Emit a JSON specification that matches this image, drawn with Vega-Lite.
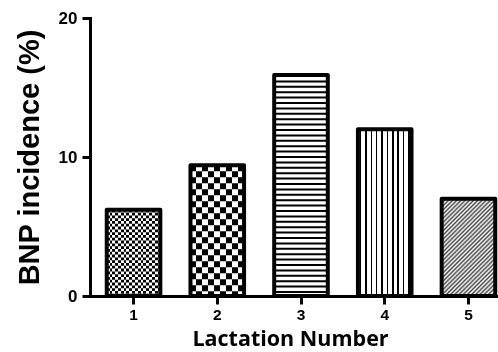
{
  "$schema": "https://vega.github.io/schema/vega-lite/v6.json",
  "autosize": "none",
  "width": 422,
  "height": 278,
  "padding": {"left": 90, "top": 18, "right": 0, "bottom": 56},
  "background": "white",
  "data": {"values": [
    {"lac": "1", "val": 6.2},
    {"lac": "2", "val": 9.4},
    {"lac": "3", "val": 15.9},
    {"lac": "4", "val": 12},
    {"lac": "5", "val": 7}
  ]},
  "encoding": {
    "x": {"field": "lac", "type": "ordinal", "sort": "ascending",
      "scale": {"paddingInner": 0.36, "paddingOuter": 0.2},
      "axis": {"title": "Lactation Number", "labelAngle": 0, "labelFont": "Liberation Sans", "labelFontWeight": "bold", "labelFontSize": 15.5,
        "tickSize": 8, "labelPadding": 3,
        "titleFont": "Open Sans", "titleFontWeight": "bold", "titleFontSize": 21.5,
        "titleX": 200, "titleY": 49, "titleAlign": "center", "titleBaseline": "alphabetic", "titleAnchor": null}},
    "y": {"field": "val", "type": "quantitative",
      "scale": {"domain": [0, 20], "nice": false},
      "axis": {"title": "BNP incidence (%)", "values": [0, 10, 20], "labelFont": "Liberation Sans", "labelFontWeight": "bold", "labelFontSize": 17,
        "tickSize": 8, "labelPadding": 5,
        "titleFont": "Liberation Sans", "titleFontWeight": "bold", "titleFontSize": 29,
        "titleAngle": -90, "titleX": -52, "titleY": 139, "titleAlign": "center", "titleBaseline": "alphabetic", "titleAnchor": null}}
  },
  "layer": [
    {"mark": {"type": "bar", "fill": "white", "strokeWidth": 0}},
    {"transform": [{"filter": "datum.lac == '1'"}],
     "mark": {"type": "rule", "stroke": "black", "strokeWidth": 53, "strokeDash": [2.8, 2.8]},
     "encoding": {"y2": {"datum": 0}}},
    {"transform": [{"filter": "datum.lac == '2'"}],
     "mark": {"type": "rule", "stroke": "black", "strokeWidth": 53, "strokeDash": [6, 6]},
     "encoding": {"y2": {"datum": 0}}},
    {"transform": [{"filter": "datum.lac == '3'"}],
     "mark": {"type": "rule", "stroke": "black", "strokeWidth": 53, "strokeDash": [2, 3.4]},
     "encoding": {"y2": {"datum": 0}}},
    {"transform": [{"filter": "datum.lac == '1'"}],
     "mark": {"type": "bar", "blend": "difference", "fill": {"gradient": "linear", "x1": 0, "y1": 0, "x2": 1, "y2": 0, "stops": [
       {"offset": 0, "color": "black"}, {"offset": 0.0526, "color": "black"}, {"offset": 0.0526, "color": "white"}, {"offset": 0.1053, "color": "white"},
       {"offset": 0.1053, "color": "black"}, {"offset": 0.1579, "color": "black"}, {"offset": 0.1579, "color": "white"}, {"offset": 0.2105, "color": "white"},
       {"offset": 0.2105, "color": "black"}, {"offset": 0.2632, "color": "black"}, {"offset": 0.2632, "color": "white"}, {"offset": 0.3158, "color": "white"},
       {"offset": 0.3158, "color": "black"}, {"offset": 0.3684, "color": "black"}, {"offset": 0.3684, "color": "white"}, {"offset": 0.4211, "color": "white"},
       {"offset": 0.4211, "color": "black"}, {"offset": 0.4737, "color": "black"}, {"offset": 0.4737, "color": "white"}, {"offset": 0.5263, "color": "white"},
       {"offset": 0.5263, "color": "black"}, {"offset": 0.5789, "color": "black"}, {"offset": 0.5789, "color": "white"}, {"offset": 0.6316, "color": "white"},
       {"offset": 0.6316, "color": "black"}, {"offset": 0.6842, "color": "black"}, {"offset": 0.6842, "color": "white"}, {"offset": 0.7368, "color": "white"},
       {"offset": 0.7368, "color": "black"}, {"offset": 0.7895, "color": "black"}, {"offset": 0.7895, "color": "white"}, {"offset": 0.8421, "color": "white"},
       {"offset": 0.8421, "color": "black"}, {"offset": 0.8947, "color": "black"}, {"offset": 0.8947, "color": "white"}, {"offset": 0.9474, "color": "white"},
       {"offset": 0.9474, "color": "black"}, {"offset": 1, "color": "black"}]}}},
    {"transform": [{"filter": "datum.lac == '2'"}],
     "mark": {"type": "bar", "blend": "difference", "fill": {"gradient": "linear", "x1": 0, "y1": 0, "x2": 1, "y2": 0, "stops": [
       {"offset": 0, "color": "black"}, {"offset": 0.1111, "color": "black"}, {"offset": 0.1111, "color": "white"}, {"offset": 0.2222, "color": "white"},
       {"offset": 0.2222, "color": "black"}, {"offset": 0.3333, "color": "black"}, {"offset": 0.3333, "color": "white"}, {"offset": 0.4444, "color": "white"},
       {"offset": 0.4444, "color": "black"}, {"offset": 0.5556, "color": "black"}, {"offset": 0.5556, "color": "white"}, {"offset": 0.6667, "color": "white"},
       {"offset": 0.6667, "color": "black"}, {"offset": 0.7778, "color": "black"}, {"offset": 0.7778, "color": "white"}, {"offset": 0.8889, "color": "white"},
       {"offset": 0.8889, "color": "black"}, {"offset": 1, "color": "black"}]}}},
    {"transform": [{"filter": "datum.lac == '4'"}],
     "mark": {"type": "bar", "fill": {"gradient": "linear", "x1": 0, "y1": 0, "x2": 1, "y2": 0, "stops": [
       {"offset": 0, "color": "white"},
       {"offset": 0.035, "color": "white"}, {"offset": 0.035, "color": "black"}, {"offset": 0.065, "color": "black"}, {"offset": 0.065, "color": "white"},
       {"offset": 0.135, "color": "white"}, {"offset": 0.135, "color": "black"}, {"offset": 0.165, "color": "black"}, {"offset": 0.165, "color": "white"},
       {"offset": 0.235, "color": "white"}, {"offset": 0.235, "color": "black"}, {"offset": 0.265, "color": "black"}, {"offset": 0.265, "color": "white"},
       {"offset": 0.335, "color": "white"}, {"offset": 0.335, "color": "black"}, {"offset": 0.365, "color": "black"}, {"offset": 0.365, "color": "white"},
       {"offset": 0.435, "color": "white"}, {"offset": 0.435, "color": "black"}, {"offset": 0.465, "color": "black"}, {"offset": 0.465, "color": "white"},
       {"offset": 0.535, "color": "white"}, {"offset": 0.535, "color": "black"}, {"offset": 0.565, "color": "black"}, {"offset": 0.565, "color": "white"},
       {"offset": 0.635, "color": "white"}, {"offset": 0.635, "color": "black"}, {"offset": 0.665, "color": "black"}, {"offset": 0.665, "color": "white"},
       {"offset": 0.735, "color": "white"}, {"offset": 0.735, "color": "black"}, {"offset": 0.765, "color": "black"}, {"offset": 0.765, "color": "white"},
       {"offset": 0.835, "color": "white"}, {"offset": 0.835, "color": "black"}, {"offset": 0.865, "color": "black"}, {"offset": 0.865, "color": "white"},
       {"offset": 0.935, "color": "white"}, {"offset": 0.935, "color": "black"}, {"offset": 0.965, "color": "black"}, {"offset": 0.965, "color": "white"},
       {"offset": 1, "color": "white"}]}}},
    {"transform": [{"filter": "datum.lac == '5'"}],
     "mark": {"type": "bar", "fill": {"gradient": "linear", "x1": 0, "y1": 0, "x2": 0.655, "y2": 1.19, "stops": [
       {"offset": 0, "color": "#444"}, {"offset": 0.0139, "color": "white"}, {"offset": 0.0278, "color": "#444"}, {"offset": 0.0417, "color": "white"},
       {"offset": 0.0556, "color": "#444"}, {"offset": 0.0694, "color": "white"}, {"offset": 0.0833, "color": "#444"}, {"offset": 0.0972, "color": "white"},
       {"offset": 0.1111, "color": "#444"}, {"offset": 0.125, "color": "white"}, {"offset": 0.1389, "color": "#444"}, {"offset": 0.1528, "color": "white"},
       {"offset": 0.1667, "color": "#444"}, {"offset": 0.1806, "color": "white"}, {"offset": 0.1944, "color": "#444"}, {"offset": 0.2083, "color": "white"},
       {"offset": 0.2222, "color": "#444"}, {"offset": 0.2361, "color": "white"}, {"offset": 0.25, "color": "#444"}, {"offset": 0.2639, "color": "white"},
       {"offset": 0.2778, "color": "#444"}, {"offset": 0.2917, "color": "white"}, {"offset": 0.3056, "color": "#444"}, {"offset": 0.3194, "color": "white"},
       {"offset": 0.3333, "color": "#444"}, {"offset": 0.3472, "color": "white"}, {"offset": 0.3611, "color": "#444"}, {"offset": 0.375, "color": "white"},
       {"offset": 0.3889, "color": "#444"}, {"offset": 0.4028, "color": "white"}, {"offset": 0.4167, "color": "#444"}, {"offset": 0.4306, "color": "white"},
       {"offset": 0.4444, "color": "#444"}, {"offset": 0.4583, "color": "white"}, {"offset": 0.4722, "color": "#444"}, {"offset": 0.4861, "color": "white"},
       {"offset": 0.5, "color": "#444"}, {"offset": 0.5139, "color": "white"}, {"offset": 0.5278, "color": "#444"}, {"offset": 0.5417, "color": "white"},
       {"offset": 0.5556, "color": "#444"}, {"offset": 0.5694, "color": "white"}, {"offset": 0.5833, "color": "#444"}, {"offset": 0.5972, "color": "white"},
       {"offset": 0.6111, "color": "#444"}, {"offset": 0.625, "color": "white"}, {"offset": 0.6389, "color": "#444"}, {"offset": 0.6528, "color": "white"},
       {"offset": 0.6667, "color": "#444"}, {"offset": 0.6806, "color": "white"}, {"offset": 0.6944, "color": "#444"}, {"offset": 0.7083, "color": "white"},
       {"offset": 0.7222, "color": "#444"}, {"offset": 0.7361, "color": "white"}, {"offset": 0.75, "color": "#444"}, {"offset": 0.7639, "color": "white"},
       {"offset": 0.7778, "color": "#444"}, {"offset": 0.7917, "color": "white"}, {"offset": 0.8056, "color": "#444"}, {"offset": 0.8194, "color": "white"},
       {"offset": 0.8333, "color": "#444"}, {"offset": 0.8472, "color": "white"}, {"offset": 0.8611, "color": "#444"}, {"offset": 0.875, "color": "white"},
       {"offset": 0.8889, "color": "#444"}, {"offset": 0.9028, "color": "white"}, {"offset": 0.9167, "color": "#444"}, {"offset": 0.9306, "color": "white"},
       {"offset": 0.9444, "color": "#444"}, {"offset": 0.9583, "color": "white"}, {"offset": 0.9722, "color": "#444"}, {"offset": 0.9861, "color": "white"},
       {"offset": 1, "color": "#444"}]}}},
    {"mark": {"type": "bar", "fillOpacity": 0, "stroke": "black", "strokeWidth": 4, "strokeJoin": "round"}}
  ],
  "config": {
    "view": {"stroke": null},
    "axis": {"grid": false, "domainColor": "black", "domainWidth": 3, "domainCap": "square", "tickColor": "black", "tickWidth": 3,
      "labelColor": "black", "titleColor": "black"}
  }
}
